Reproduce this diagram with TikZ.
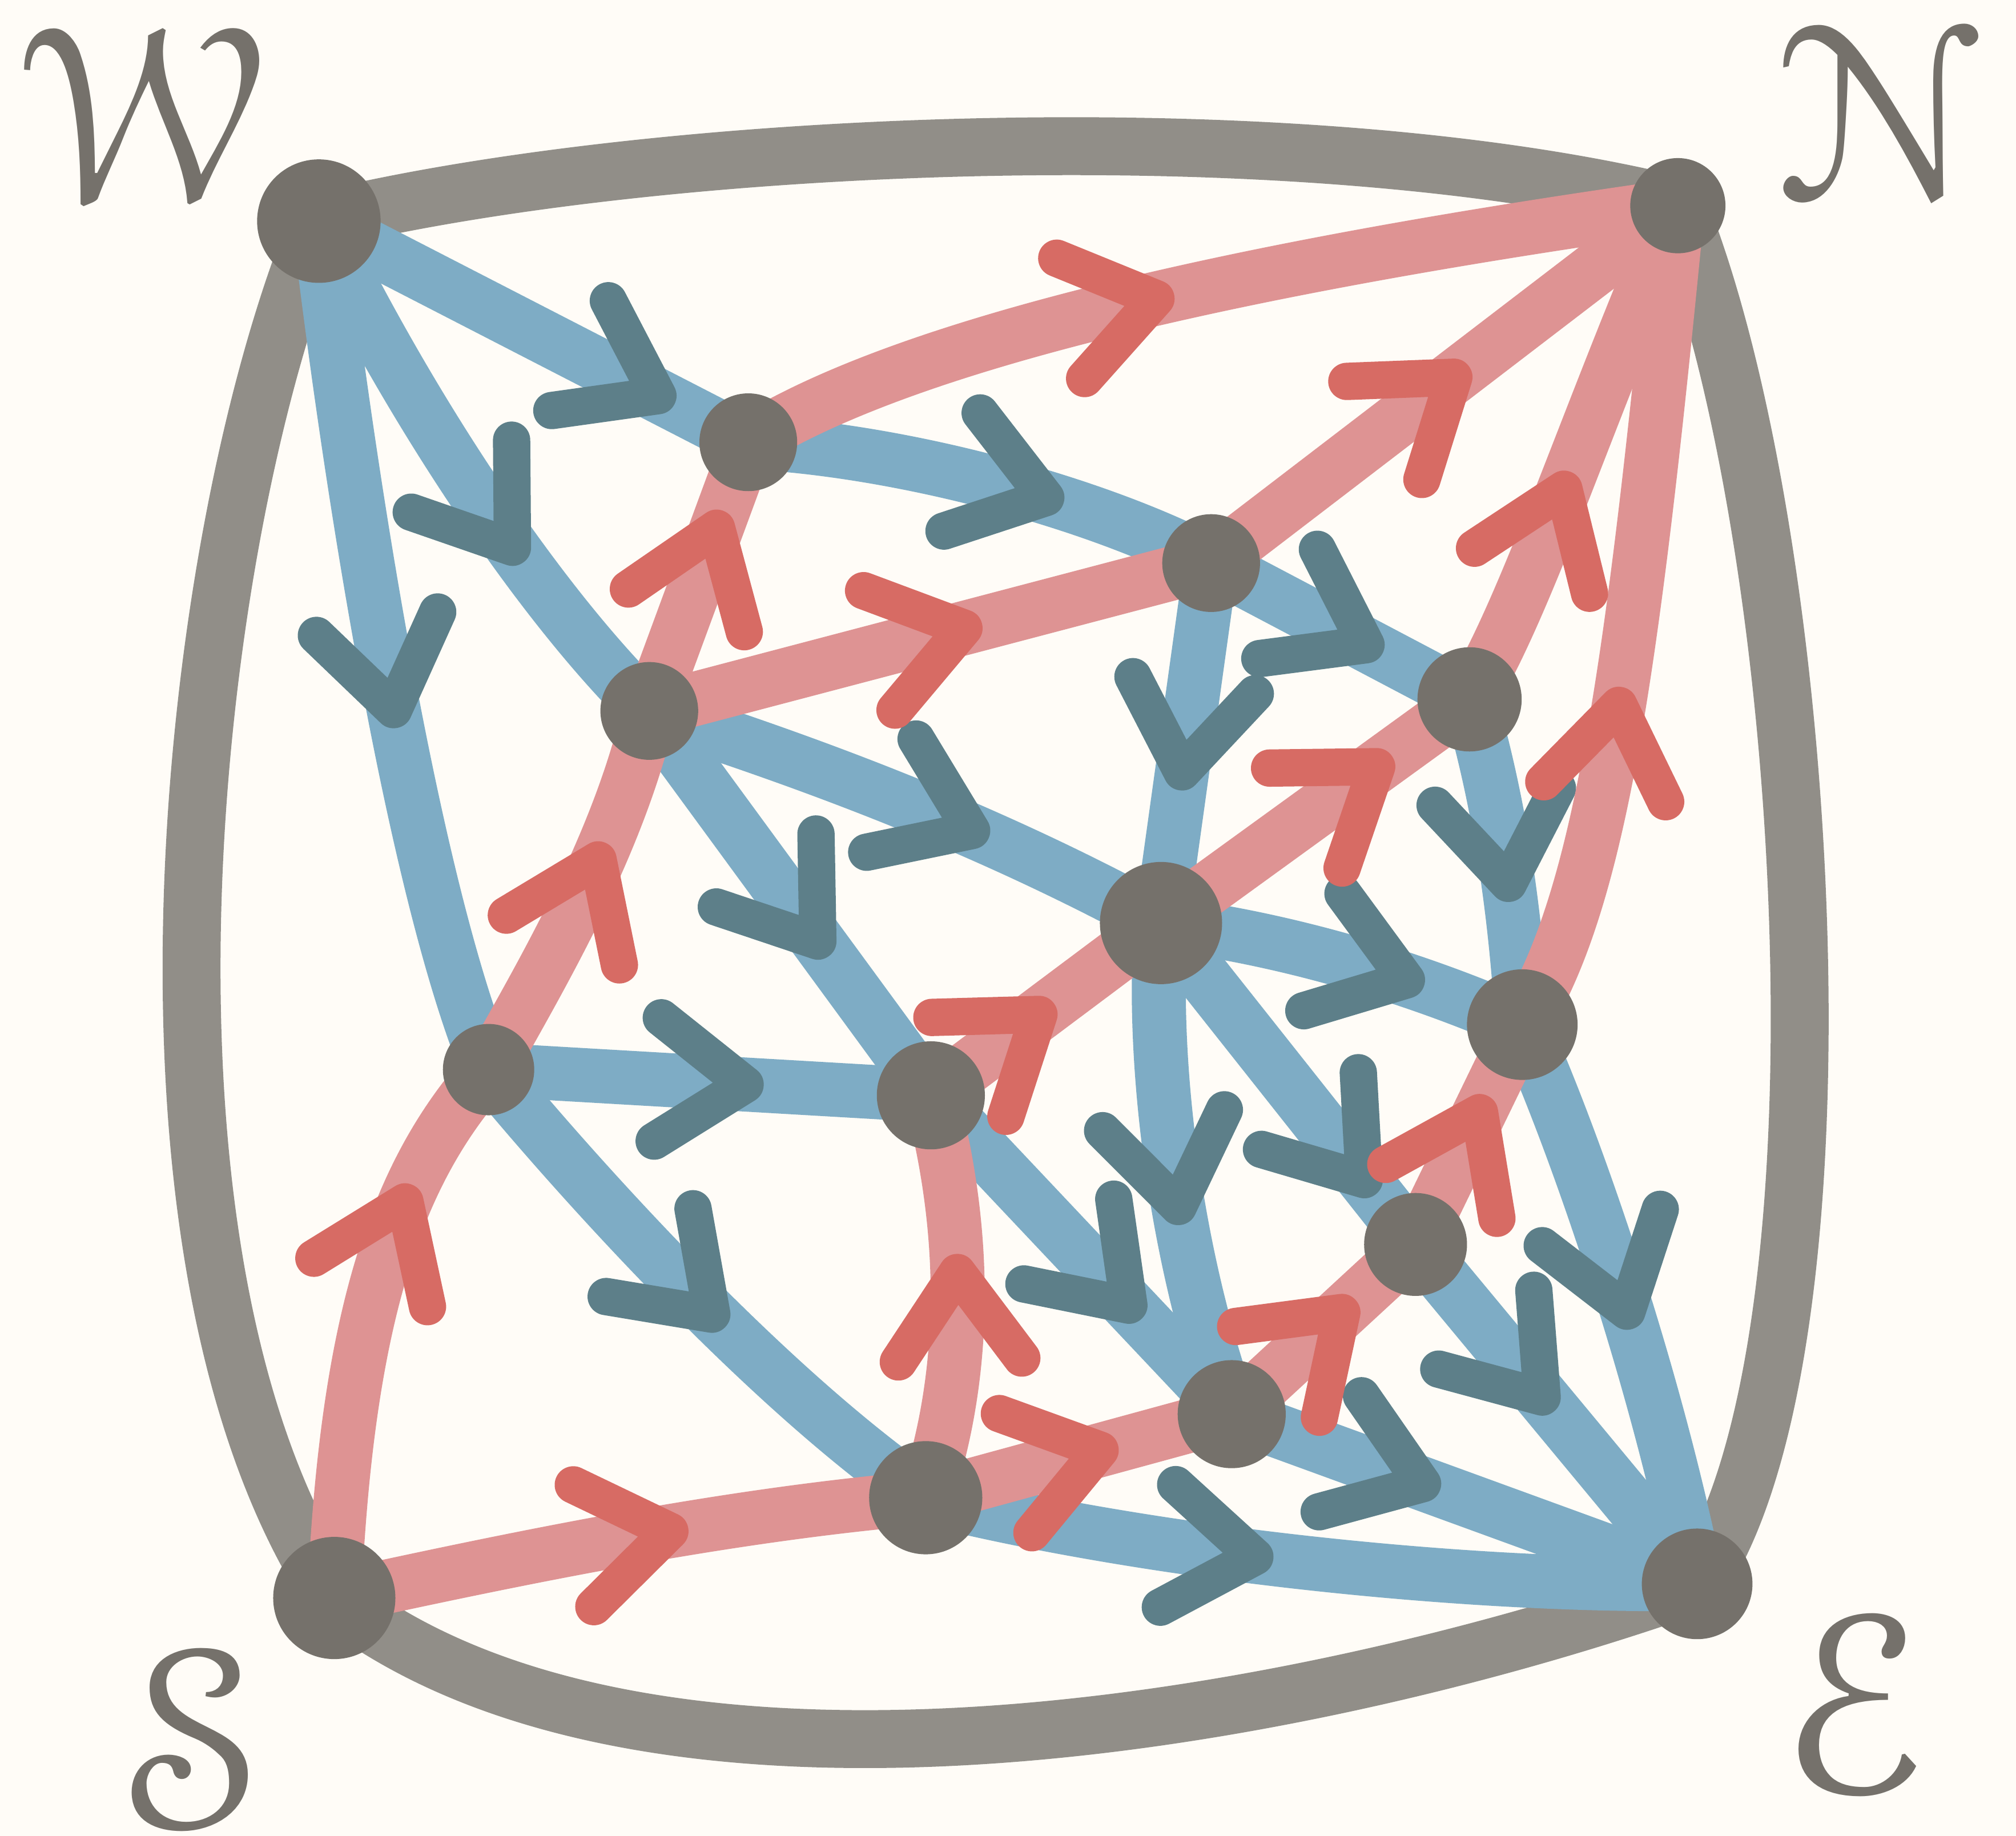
\documentclass[tikz,border=0pt]{standalone}
\usepackage[mathscr]{eucal}
\usetikzlibrary{decorations.markings}
\definecolor{bgc}{HTML}{FFFCF7}
\definecolor{gc}{HTML}{918E88}
\definecolor{vc}{HTML}{75716B}
\definecolor{bc}{HTML}{7EACC5}
\definecolor{bd}{HTML}{5D7F89}
\definecolor{rc}{HTML}{DE9393}
\definecolor{rd}{HTML}{D76B64}
\pgfdeclarelayer{bgl}
\pgfdeclarelayer{edgel}
\pgfsetlayers{bgl,edgel,main}
\begin{document}
\begin{tikzpicture}[x=0.01cm,y=-0.01cm,
  vtx/.style={circle,fill=vc,inner sep=0pt,minimum size=#1},
  outer/.style={draw=gc,line width=0.45cm,line cap=round},
  bedge/.style={draw=bc,line width=0.42cm,line cap=round},
  redge/.style={draw=rc,line width=0.42cm,line cap=round},
  chev/.style={line width=0.29cm,line cap=round,line join=round},
  barr/.style={postaction={decorate,decoration={markings,mark=at position #1 with {\draw[chev,draw=bd] (-0.68cm,0.48cm)--(0cm,0cm)--(-0.68cm,-0.48cm);}}}},
  rarr/.style={postaction={decorate,decoration={markings,mark=at position #1 with {\draw[chev,draw=rd] (-0.68cm,0.48cm)--(0cm,0cm)--(-0.68cm,-0.48cm);}}}},
  lbl/.style={text=vc,inner sep=0pt,font=\Huge}
]
\useasboundingbox (0,0) rectangle (1568,1428);
\begin{pgfonlayer}{bgl}
\fill[bgc] (0,0) rectangle (1568,1428);
\end{pgfonlayer}

% vertices
\node[vtx=0.96cm] (W) at (248,172) {};
\node[vtx=0.74cm] (N) at (1305,160) {};
\node[vtx=0.86cm] (E) at (1320,1232) {};
\node[vtx=0.95cm] (S) at (260,1243) {};
\node[vtx=0.76cm] (a) at (582,344) {};
\node[vtx=0.76cm] (b) at (505,553) {};
\node[vtx=0.76cm] (c) at (942,438) {};
\node[vtx=0.81cm] (d) at (1143,544) {};
\node[vtx=0.95cm] (e) at (903,718) {};
\node[vtx=0.71cm] (f) at (380,832) {};
\node[vtx=0.84cm] (g) at (724,852) {};
\node[vtx=0.86cm] (h) at (1184,797) {};
\node[vtx=0.80cm] (i) at (1101,968) {};
\node[vtx=0.84cm] (j) at (958,1100) {};
\node[vtx=0.88cm] (k) at (720,1165) {};

% labels
\node[lbl] (LW) at (110,91) {\scalebox{2.24}{$\mathscr{W}$}};
\node[lbl] (LN) at (1459,88) {\scalebox{2.24}{$\mathscr{N}$}};
\node[lbl] (LE) at (1446,1325) {\scalebox{2.28}{$\mathscr{E}$}};
\node[lbl] (LS) at (151,1352) {\scalebox{2.28}{$\mathscr{S}$}};

\begin{pgfonlayer}{edgel}
% outer edges
\draw[outer] (W.center) .. controls (500,110) and (1000,85) .. (N.center);
\draw[outer] (N.center) .. controls (1410,420) and (1445,1050) .. (E.center);
\draw[outer] (E.center) .. controls (1000,1345) and (500,1430) .. (S.center);
\draw[outer] (S.center) .. controls (85,980) and (145,420) .. (W.center);

% blue edges
\draw[bedge,barr=0.79] (W.center) -- (a.center);
\draw[bedge,barr=0.64] (W.center) .. controls (320,320) and (420,470) .. (b.center);
\draw[bedge,barr=0.57] (W.center) .. controls (275,400) and (325,700) .. (f.center);
\draw[bedge,barr=0.63] (a.center) .. controls (700,350) and (850,390) .. (c.center);
\draw[bedge,barr=0.6] (c.center) -- (d.center);
\draw[bedge,barr=0.57] (d.center) .. controls (1165,620) and (1178,700) .. (h.center);
\draw[bedge,barr=0.52] (h.center) .. controls (1230,900) and (1290,1080) .. (E.center);
\draw[bedge,barr=0.62] (b.center) .. controls (620,590) and (760,640) .. (e.center);
\draw[bedge,barr=0.67] (e.center) .. controls (1000,730) and (1100,760) .. (h.center);
\draw[bedge,barr=0.58] (c.center) -- (e.center);
\draw[bedge,barr=0.6] (b.center) -- (g.center);
\draw[bedge,barr=0.58] (f.center) -- (g.center);
\draw[bedge,barr=0.57] (e.center) .. controls (895,830) and (915,980) .. (j.center);
\draw[bedge,barr=0.8] (e.center) -- (i.center);
\draw[bedge,barr=0.66] (g.center) -- (j.center);
\draw[bedge,barr=0.54] (f.center) .. controls (440,905) and (590,1075) .. (k.center);
\draw[bedge,barr=0.43] (k.center) .. controls (900,1210) and (1150,1235) .. (E.center);
\draw[bedge,barr=0.41] (j.center) -- (E.center);
\draw[bedge,barr=0.45] (i.center) -- (E.center);

% red edges
\draw[redge,rarr=0.72] (S.center) .. controls (270,1020) and (310,910) .. (f.center);
\draw[redge,rarr=0.57] (S.center) .. controls (420,1208) and (570,1178) .. (k.center);
\draw[redge,rarr=0.56] (k.center) .. controls (755,1060) and (750,950) .. (g.center);
\draw[redge,rarr=0.57] (k.center) -- (j.center);
\draw[redge,rarr=0.6] (j.center) -- (i.center);
\draw[redge,rarr=0.6] (i.center) -- (h.center);
\draw[redge,rarr=0.4] (h.center) .. controls (1245,700) and (1270,520) .. (N.center);
\draw[redge,rarr=0.43] (d.center) .. controls (1188,470) and (1232,330) .. (N.center);
\draw[redge,rarr=0.52] (c.center) -- (N.center);
\draw[redge,rarr=0.45] (a.center) .. controls (700,270) and (950,210) .. (N.center);
\draw[redge,rarr=0.68] (b.center) -- (a.center);
\draw[redge,rarr=0.56] (b.center) -- (c.center);
\draw[redge,rarr=0.6] (f.center) .. controls (420,760) and (480,660) .. (b.center);
\draw[redge,rarr=0.7] (e.center) -- (d.center);
\draw[redge,rarr=0.47] (g.center) -- (e.center);
\end{pgfonlayer}
\end{tikzpicture}
\end{document}
